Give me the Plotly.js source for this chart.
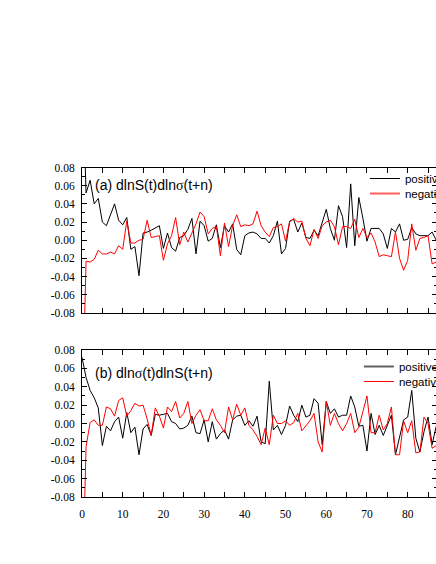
<!DOCTYPE html>
<html>
<head>
<meta charset="utf-8">
<script src="https://cdn.plot.ly/plotly-3.0.1.min.js"></script>
<style>
  html, body { margin: 0; padding: 0; overflow: hidden; background: #fff; }
  #chart { width: 520px; height: 564px; }
</style>
</head>
<body>
<div id="chart"></div>
<script>
// lag n = 0..87
const lags = Array.from({length: 88}, (_, i) => i);

// (a) dlnS(t) dlnσ(t+n)
const posA = [0.2, 0.052, 0.066, 0.040, 0.046, 0.020, 0.016, 0.028, 0.040, 0.022,
  0.017, 0.025, -0.010, -0.007, -0.039, 0.008, 0.009, 0.011, 0.014, 0.016,
  -0.009, 0.008, -0.008, -0.012, 0.003, 0.005, 0.012, 0.024, -0.015, 0.021,
  0.016, -0.001, 0.002, 0.017, -0.008, 0.016, 0.009, 0.018, -0.010, -0.016,
  0.005, 0.008, 0.009, 0.007, 0.002, 0.002, -0.003, 0.005, 0.021, -0.015,
  -0.009, 0.021, 0.023, 0.009, 0.019, 0.003, 0.002, 0.011, 0.005, 0.020,
  0.034, 0.013, 0.000, 0.038, 0.026, -0.008, 0.062, -0.006, 0.047, 0.024,
  -0.001, 0.013, 0.013, 0.013, 0.007, -0.009, 0.013, 0.009, 0.018, 0.000,
  0.001, 0.014, 0.007, 0.005, 0.005, 0.005, 0.009, 0.000];
const negA = [-0.2, -0.023, -0.024, -0.021, -0.011, -0.015, -0.015, -0.013, -0.015, -0.006,
  -0.010, 0.021, -0.003, -0.003, 0.000, 0.001, 0.022, 0.003, 0.004, 0.005,
  -0.022, -0.004, 0.005, 0.025, -0.005, 0.009, -0.002, 0.008, 0.018, 0.031,
  0.026, 0.007, 0.013, 0.015, -0.017, 0.019, -0.007, 0.016, 0.028, 0.015,
  0.017, 0.016, 0.018, 0.032, 0.016, 0.009, 0.004, 0.014, 0.015, 0.018,
  -0.001, 0.020, 0.024, 0.020, 0.021, 0.002, -0.006, 0.012, 0.002, 0.016,
  0.020, 0.022, 0.015, -0.005, 0.015, 0.015, 0.013, 0.023, 0.003, 0.013,
  0.003, 0.008, -0.002, -0.018, -0.016, -0.017, -0.018, 0.009, -0.020, -0.033,
  -0.022, 0.018, -0.011, 0.002, 0.003, 0.005, -0.026, -0.024];

// (b) dlnσ(t) dlnS(t+n)
const posB = [0.072, 0.050, 0.036, 0.028, 0.017, -0.024, -0.003, -0.008, 0.002, 0.007,
  -0.016, 0.012, -0.010, -0.004, -0.034, -0.006, -0.001, -0.013, 0.010, 0.009,
  0.010, 0.011, 0.002, 0.000, -0.006, -0.005, -0.002, 0.008, -0.010, -0.011,
  0.004, -0.020, 0.002, -0.017, -0.011, -0.007, -0.017, 0.004, 0.008, 0.009,
  -0.002, 0.003, -0.003, 0.008, -0.020, -0.022, 0.046, -0.007, -0.002, -0.012,
  -0.002, 0.019, 0.009, 0.002, 0.020, 0.007, 0.009, 0.027, 0.022, -0.023,
  0.024, 0.011, 0.016, 0.007, 0.009, 0.009, 0.030, 0.018, -0.003, -0.002,
  -0.030, 0.011, -0.012, -0.002, -0.013, -0.002, 0.009, -0.034, -0.016, 0.004,
  0.007, 0.036, -0.016, -0.031, -0.009, 0.007, -0.023, -0.003];
const negB = [-0.2, -0.025, 0.001, 0.004, -0.002, -0.002, 0.018, 0.016, 0.008, 0.025,
  0.028, 0.008, 0.014, 0.022, 0.019, 0.020, 0.005, -0.013, 0.017, 0.008,
  -0.005, 0.018, 0.013, 0.024, 0.006, 0.011, 0.024, 0.000, 0.009, 0.015,
  0.003, 0.003, 0.016, 0.004, -0.002, -0.010, 0.018, 0.004, 0.021, 0.009,
  0.017, -0.002, -0.007, -0.014, -0.023, -0.005, -0.023, 0.009, 0.000, 0.000,
  0.003, -0.002, 0.001, 0.011, -0.008, -0.002, 0.003, 0.011, -0.020, -0.031,
  0.024, -0.002, 0.011, 0.000, -0.008, 0.000, 0.011, -0.010, -0.004, 0.013,
  0.030, -0.010, -0.010, 0.009, -0.007, 0.000, 0.018, -0.034, -0.034, 0.003,
  -0.010, 0.003, -0.032, -0.031, 0.007, 0.000, -0.027, -0.024];

const seriesNames = ['positive', 'negative'];
const yTickVals = [-0.08, -0.06, -0.04, -0.02, 0.00, 0.02, 0.04, 0.06, 0.08];
const yTickText = ['-0.08', '-0.06', '-0.04', '-0.02', '0.00', '0.02', '0.04', '0.06', '0.08'];
const xTickVals = [0, 10, 20, 30, 40, 50, 60, 70, 80];
const panelTitles = ['(a) dlnS(t)dln<span style="font-family:\'Liberation Serif\'">σ</span>(t+n)',
                     '(b) dln<span style="font-family:\'Liberation Serif\'">σ</span>(t)dlnS(t+n)'];

const tickFont = {family: 'Liberation Serif, Times New Roman, serif', size: 11.5, color: '#000'};
const lineBlack = {color: '#000000', width: 1};
const lineRed = {color: '#ff0000', width: 1};

const traces = [
  {x: lags, y: posA, type: 'scatter', mode: 'lines', line: lineBlack, xaxis: 'x', yaxis: 'y', showlegend: false},
  {x: lags, y: negA, type: 'scatter', mode: 'lines', line: lineRed, xaxis: 'x', yaxis: 'y', showlegend: false},
  {x: lags, y: posB, type: 'scatter', mode: 'lines', line: lineBlack, xaxis: 'x2', yaxis: 'y2', showlegend: false},
  {x: lags, y: negB, type: 'scatter', mode: 'lines', line: lineRed, xaxis: 'x2', yaxis: 'y2', showlegend: false},
  // legend entries (one legend box per entry so the spacing can follow the reference)
  {x: [null], y: [null], type: 'scatter', mode: 'lines', name: seriesNames[0], line: {color: '#000', width: 1}, xaxis: 'x', yaxis: 'y', legend: 'legend'},
  {x: [null], y: [null], type: 'scatter', mode: 'lines', name: seriesNames[1], line: {color: '#ff6060', width: 2}, xaxis: 'x', yaxis: 'y', legend: 'legend2'},
  {x: [null], y: [null], type: 'scatter', mode: 'lines', name: seriesNames[0], line: {color: '#606060', width: 2}, xaxis: 'x2', yaxis: 'y2', legend: 'legend3'},
  {x: [null], y: [null], type: 'scatter', mode: 'lines', name: seriesNames[1], line: {color: '#ff0000', width: 1}, xaxis: 'x2', yaxis: 'y2', legend: 'legend4'}
];

function xAxis(anchor, labels) {
  return {
    anchor: anchor, range: [0, 87.2], showgrid: false, zeroline: false,
    showline: true, linecolor: '#000', linewidth: 1, mirror: 'allticks',
    ticks: 'inside', ticklen: 5, tickwidth: 1, tickcolor: '#000',
    tickmode: 'array', tickvals: xTickVals,
    minor: {ticks: 'inside', ticklen: 5, tickwidth: 1, tickcolor: '#000', dtick: 5, tick0: 0, showgrid: false},
    showticklabels: labels, tickfont: tickFont, ticklabelstandoff: 6
  };
}
function yAxis(anchor, domain) {
  return {
    anchor: anchor, domain: domain, range: [-0.08, 0.08], showgrid: false, zeroline: false,
    showline: true, linecolor: '#000', linewidth: 1, mirror: 'allticks',
    ticks: 'inside', ticklen: 5, tickwidth: 1, tickcolor: '#000',
    tickmode: 'array', tickvals: yTickVals, ticktext: yTickText,
    minor: {ticks: 'inside', ticklen: 3, tickwidth: 1, tickcolor: '#000', dtick: 0.01, tick0: 0, showgrid: false},
    tickfont: tickFont, ticklabelstandoff: 4
  };
}

const legendFont = {family: 'Liberation Sans, Arial, sans-serif', size: 11.5, color: '#000'};
function legendAt(x, y) {
  return {bgcolor: 'rgba(0,0,0,0)', borderwidth: 0, font: legendFont,
          xanchor: 'left', yanchor: 'top', x: x, y: y};
}

const layout = {
  width: 520, height: 564,
  margin: {l: 82, r: 83, t: 0, b: 0},
  paper_bgcolor: '#fff', plot_bgcolor: '#fff',
  showlegend: true,
  xaxis: xAxis('y', false),
  yaxis: yAxis('x', [0.44504, 0.70301]),
  xaxis2: xAxis('y2', true),
  yaxis2: yAxis('x2', [0.11879, 0.37943]),
  legend: legendAt(0.797, 0.7092),
  legend2: legendAt(0.797, 0.6826),
  legend3: legendAt(0.780, 0.3759),
  legend4: legendAt(0.780, 0.3493),
  annotations: [
    {text: panelTitles[0], xref: 'paper', yref: 'paper', x: 0.031, y: 0.672, xanchor: 'left', yanchor: 'middle',
     showarrow: false, font: {family: 'Liberation Sans, Arial, sans-serif', size: 14, color: '#000'}},
    {text: panelTitles[1], xref: 'paper', yref: 'paper', x: 0.031, y: 0.3387, xanchor: 'left', yanchor: 'middle',
     showarrow: false, font: {family: 'Liberation Sans, Arial, sans-serif', size: 14, color: '#000'}}
  ]
};

Plotly.newPlot('chart', traces, layout, {displayModeBar: false, staticPlot: true});
</script>
</body>
</html>
